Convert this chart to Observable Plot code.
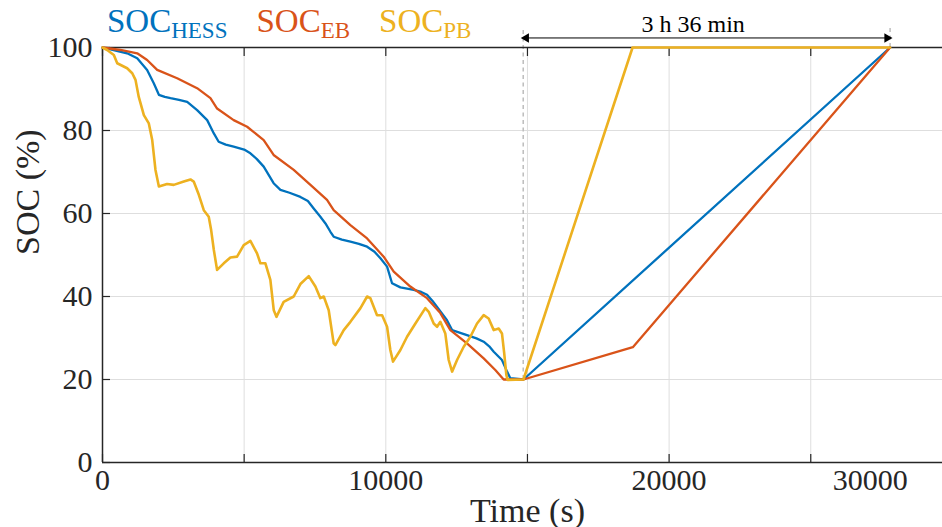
<!DOCTYPE html>
<html>
<head>
<meta charset="utf-8">
<script src="https://cdn.jsdelivr.net/npm/d3@7"></script>
<script src="https://cdn.jsdelivr.net/npm/@observablehq/plot@0.6"></script>
<style>
  html, body { margin: 0; padding: 0; background: #fff; }
  #wrap { position: relative; width: 942px; height: 527px; }
  #legend { position: absolute; left: 107px; top: 5px; display: flex; gap: 29px;
            font-family: 'Liberation Serif', serif; font-size: 33px; line-height: 1; white-space: nowrap; }
  #legend .sub { font-size: 23px; position: relative; top: 6px; }
</style>
</head>
<body>
<div id="wrap"></div>
<script>
// ---- Series names & colours ----
const seriesKeys = ["HESS", "EB", "PB"];
const seriesColors = ["#0072BD", "#D95319", "#EDB120"];

// ---- SOC_HESS ----
const tHess = [0, 500, 870, 1225, 1575, 1810, 1990, 2200, 2400, 2700, 2990, 3340, 3695, 3930, 4100, 4350, 4630, 5000, 5220, 5450, 5690, 6040, 6280, 6600, 6985, 7250, 7455, 7690, 7870, 8045, 8160, 8450, 8750, 9050, 9340, 9600, 9810, 10045, 10220, 10515, 10985, 11250, 11455, 11650, 11810, 12160, 12340, 12600, 12865, 13200, 13455, 13650, 13810, 14100, 14280, 14395, 14860, 27800];
const socHess = [100, 99.2, 98.6, 97.4, 94.6, 91.4, 88.6, 88.1, 87.8, 87.4, 86.9, 84.9, 82.5, 79.3, 77.3, 76.6, 76.1, 75.4, 74.5, 73.1, 71.3, 67.3, 65.7, 65.0, 64.0, 63.0, 61.2, 59.2, 57.6, 55.6, 54.4, 53.7, 53.2, 52.7, 52.0, 50.8, 49.2, 47.2, 43.2, 42.2, 41.6, 41.1, 40.4, 38.9, 37.5, 34.3, 31.9, 31.3, 30.7, 29.9, 29.1, 28.0, 26.7, 24.7, 21.9, 20.3, 20.0, 100];

// ---- SOC_EB ----
const tEb = [0, 635, 1225, 1575, 1930, 2635, 3340, 3810, 4045, 4630, 5105, 5690, 6040, 6750, 7340, 7925, 8160, 8750, 9340, 9925, 10280, 10865, 11455, 11925, 12280, 12865, 13455, 13865, 14160, 14860, 18720, 27800];
const socEb = [100, 99.4, 98.6, 97.0, 94.6, 92.6, 90.2, 87.8, 85.3, 82.5, 80.9, 77.7, 74.1, 70.5, 66.9, 63.3, 60.8, 57.2, 54.0, 49.6, 46.0, 42.4, 39.6, 36.0, 31.9, 28.7, 25.1, 22.3, 20.0, 20.0, 27.8, 100];

// ---- SOC_PB ----
const tPb = [0, 165, 400, 520, 870, 1050, 1165, 1280, 1460, 1635, 1755, 1870, 1990, 2280, 2515, 2870, 3105, 3220, 3400, 3575, 3750, 3835, 3930, 4045, 4280, 4515, 4750, 4985, 5220, 5455, 5575, 5750, 5925, 6045, 6140, 6395, 6750, 6985, 7280, 7515, 7690, 7810, 7985, 8160, 8220, 8515, 8750, 9105, 9340, 9455, 9690, 9870, 10045, 10160, 10255, 10515, 10750, 11045, 11395, 11515, 11690, 11810, 11925, 12100, 12220, 12340, 12515, 12750, 12985, 13220, 13455, 13630, 13810, 13985, 14100, 14180, 14255, 14300, 14860, 18710, 27800];
const socPb = [100, 99.4, 98.2, 96.2, 95.0, 93.8, 92.2, 88.1, 83.7, 81.7, 77.7, 70.5, 66.5, 67.1, 66.9, 67.7, 68.2, 67.7, 64.5, 60.8, 59.2, 56.0, 51.2, 46.4, 48.0, 49.4, 49.6, 52.4, 53.4, 50.4, 48.0, 48.0, 44.0, 36.7, 35.1, 38.7, 40.0, 43.0, 44.9, 42.4, 39.6, 40.0, 36.7, 28.7, 28.3, 31.9, 33.9, 37.2, 40.0, 39.6, 35.5, 35.5, 32.7, 27.1, 24.3, 27.1, 30.3, 33.5, 37.2, 36.3, 33.5, 32.7, 33.9, 31.1, 24.7, 21.9, 24.7, 27.9, 30.3, 33.5, 35.5, 34.7, 31.9, 32.3, 31.1, 26.3, 21.1, 19.9, 20.0, 100, 100];

// ---- Axes ----
const xDomain = [0, 29650];
const yDomain = [0, 100];
const xTickVals = [0, 5000, 10000, 15000, 20000, 25000];
const xLabelVals = [0, 10000, 20000, 27100];
const xLabelTexts = ["0", "10000", "20000", "30000"];
const yTickVals = [0, 20, 40, 60, 80, 100];
const xTitle = "Time (s)";
const yTitle = "SOC (%)";

// ---- Annotation ----
const dischargeEnd = 14850;
const fullCharge = 27800;
const annotationText = "3 h 36 min";
const annotationTextX = 20850;
const arrowLevel = 102.3;
const dashTop = 104.6;
const dashBottomLeft = 20;

const toRows = (t, s) => t.map((d, i) => ({t: d, soc: s[i]}));
const rows = [toRows(tHess, socHess), toRows(tEb, socEb), toRows(tPb, socPb)];
const labelMap = new Map(xLabelVals.map((v, i) => [v, xLabelTexts[i]]));

const axisColor = "#262626";
const gridColor = "#dedede";
const serif = "'Liberation Serif', serif";

const chart = Plot.plot({
  width: 942,
  height: 527,
  marginTop: 47,
  marginBottom: 65,
  marginLeft: 102,
  marginRight: 0,
  x: {domain: xDomain},
  y: {domain: yDomain},
  style: {fontFamily: serif, fontSize: "30px", color: axisColor, background: "#fff", overflow: "visible"},
  marks: [
    Plot.gridX(xTickVals, {stroke: gridColor, strokeOpacity: 1, strokeWidth: 1}),
    Plot.gridY(yTickVals, {stroke: gridColor, strokeOpacity: 1, strokeWidth: 1}),
    // dashed markers
    Plot.ruleX([dischargeEnd], {y1: dashBottomLeft, y2: dashTop, stroke: "#bdbdbd", strokeWidth: 1.5, strokeDasharray: "4,3.5"}),
    Plot.ruleX([fullCharge], {y1: 100, y2: dashTop, stroke: "#bdbdbd", strokeWidth: 1.5, strokeDasharray: "4,3.5"}),
    // frame lines
    Plot.ruleY([0, 100], {stroke: axisColor, strokeWidth: 1.5}),
    Plot.ruleX([0], {stroke: axisColor, strokeWidth: 1.5}),
    // inward ticks
    Plot.axisX(xTickVals, {anchor: "bottom", tickSize: -8, tickFormat: () => "", label: null, stroke: axisColor, strokeWidth: 1.2}),
    Plot.axisX(xTickVals, {anchor: "top", tickSize: -8, tickFormat: () => "", label: null, stroke: axisColor, strokeWidth: 1.2}),
    Plot.axisY(yTickVals, {anchor: "left", tickSize: -8, tickFormat: () => "", label: null, stroke: axisColor, strokeWidth: 1.2}),
    // tick labels
    Plot.axisX(xLabelVals, {anchor: "bottom", tickSize: 0, tickPadding: 6, tickFormat: d => labelMap.get(d), label: null, fontSize: 30, fontFamily: serif, fill: axisColor}),
    Plot.axisY(yTickVals, {anchor: "left", tickSize: 0, tickPadding: 10, tickFormat: d => String(d), label: null, fontSize: 30, fontFamily: serif, fill: axisColor}),
    // titles
    Plot.text([xTitle], {frameAnchor: "bottom", dx: 5, dy: 59, fontSize: 34, fontFamily: serif, fill: axisColor}),
    Plot.text([yTitle], {frameAnchor: "left", dx: -74, rotate: -90, fontSize: 34, fontFamily: serif, fill: axisColor}),
    // series
    ...rows.map((r, i) => Plot.line(r, {x: "t", y: "soc", stroke: seriesColors[i], strokeWidth: i === 2 ? 2.6 : 2.3})),
    // duration annotation
    Plot.link([0], {x1: () => dischargeEnd, x2: () => fullCharge, y1: () => arrowLevel, y2: () => arrowLevel, stroke: "#000", strokeWidth: 1}),
    Plot.dot([dischargeEnd], {x: d => d, y: () => arrowLevel, symbol: "triangle", r: 3.5, rotate: -90, fill: "#000", stroke: null, dx: 3}),
    Plot.dot([fullCharge], {x: d => d, y: () => arrowLevel, symbol: "triangle", r: 3.5, rotate: 90, fill: "#000", stroke: null, dx: -3}),
    Plot.text([annotationText], {x: () => annotationTextX, y: () => arrowLevel, dy: -14, fontSize: 24, fontFamily: serif, fill: "#000"})
  ]
});

const wrap = document.getElementById("wrap");
wrap.appendChild(chart);

const legend = document.createElement("div");
legend.id = "legend";
seriesKeys.forEach((k, i) => {
  const item = document.createElement("span");
  item.style.color = seriesColors[i];
  item.innerHTML = `SOC<span class="sub">${k}</span>`;
  legend.appendChild(item);
});
wrap.appendChild(legend);
</script>
</body>
</html>
